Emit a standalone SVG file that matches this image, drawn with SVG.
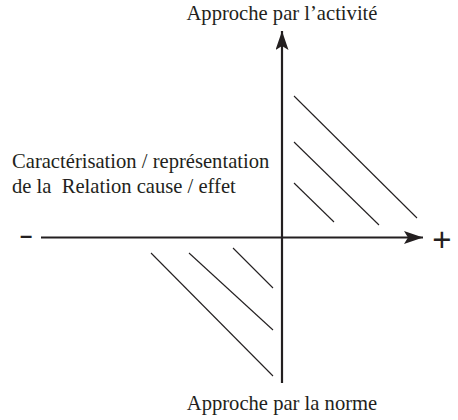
<svg xmlns="http://www.w3.org/2000/svg" width="458" height="420" viewBox="0 0 458 420">
<style>
text{font-family:"Liberation Serif","Times New Roman",serif;fill:#231f20;font-size:20.6px}
.axis{stroke:#231f20;stroke-width:2.2;fill:none}
.hatch{stroke:#231f20;stroke-width:1.1;fill:none}
.sym{font-family:"Liberation Sans",Arial,sans-serif}
</style>
<defs>
<marker id="ah" markerUnits="userSpaceOnUse" markerWidth="19" markerHeight="13" refX="19" refY="6.5" orient="auto">
<path d="M0,0 L19,6.5 L0,13 L4,6.5 Z" fill="#231f20"/>
</marker>
</defs>
<g id="connectors">
<line class="axis" x1="282" y1="383" x2="282" y2="31" marker-end="url(#ah)"/>
<line class="axis" x1="41" y1="237.5" x2="423" y2="237.5" marker-end="url(#ah)"/>
</g>
<g id="hatch-upper">
<line class="hatch" x1="294" y1="96" x2="417" y2="218"/>
<line class="hatch" x1="294" y1="142" x2="379" y2="225"/>
<line class="hatch" x1="294" y1="183" x2="334" y2="222"/>
</g>
<g id="hatch-lower">
<line class="hatch" x1="151" y1="253" x2="273" y2="376"/>
<line class="hatch" x1="189" y1="253" x2="273" y2="330"/>
<line class="hatch" x1="233" y1="248" x2="273" y2="288"/>
</g>
<g id="label-top"><text x="282" y="20" text-anchor="middle">Approche par l’activité</text></g>
<g id="label-bottom"><text x="282" y="410" text-anchor="middle">Approche par la norme</text></g>
<g id="label-left">
<text x="12" y="168">Caractérisation / représentation</text>
<text x="12" y="193" xml:space="preserve">de la  Relation cause / effet</text>
</g>
<g id="minus"><text class="sym" x="20" y="243" style="font-size:22px;font-weight:bold">–</text></g>
<g id="plus"><text class="sym" x="442" y="250.5" text-anchor="middle" style="font-size:33px">+</text></g>
</svg>
